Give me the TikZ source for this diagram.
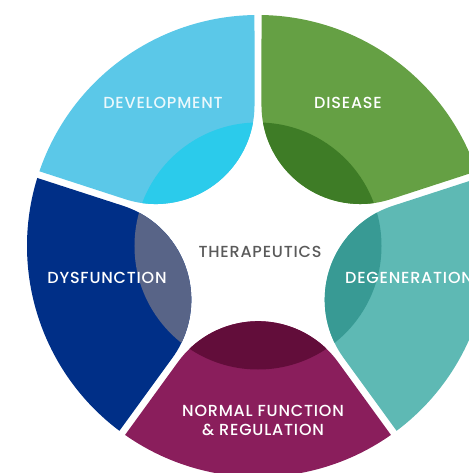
\documentclass[tikz,border=0pt]{standalone}
\usepackage{fontspec}
\setmainfont{Poppins Medium}[LetterSpace=5]
\definecolor{devlight}{HTML}{5BC8E8}
\definecolor{devdark}{HTML}{2BCBEB}
\definecolor{dislight}{HTML}{65A044}
\definecolor{disdark}{HTML}{3E7C26}
\definecolor{deglight}{HTML}{5EB9B4}
\definecolor{degdark}{HTML}{389A94}
\definecolor{normlight}{HTML}{8A1E5C}
\definecolor{normdark}{HTML}{620D3A}
\definecolor{dyslight}{HTML}{002F87}
\definecolor{dysdark}{HTML}{586487}
\definecolor{therapgray}{HTML}{5A5A5A}
\usetikzlibrary{positioning,calc}

% one ring segment around mid angle #1
\newcommand{\segmentpath}[1]{(#1+35.13:231) -- ([shift={(#1:174)}]#1+126:98.8)
  arc[start angle=#1+126, end angle=#1+234, radius=98.8]
  -- (#1-35.13:231) arc[start angle=#1-35.13, end angle=#1+35.13, radius=231] -- cycle}

\begin{document}
\begin{tikzpicture}[
  x=1pt, y=1pt,
  seglabel/.style={font=\fontsize{16}{19}\selectfont, text=#1, align=center},
  seglabel/.default=white
]
  \useasboundingbox (-258,-227) rectangle (210,246);

  % Segments with darker overlap on the centre circle
  \foreach \ang/\light/\dark in {126/devlight/devdark, 54/dislight/disdark,
      342/deglight/degdark, 270/normlight/normdark, 198/dyslight/dysdark}{
    \fill[\light] \segmentpath{\ang};
    \begin{scope}
      \clip (0,0) circle (123.5);
      \fill[\dark] \segmentpath{\ang};
    \end{scope}
  }

  % Labels
  \node[seglabel=white!88!devlight] (dev) at (-95,143) {DEVELOPMENT};
  \node[seglabel] (dis) at (90,143) {DISEASE};
  \node[seglabel] (deg) at (151,-32) {DEGENERATION};
  \node[seglabel] (norm) at (5,-174) {NORMAL FUNCTION\\\& REGULATION};
  \node[seglabel] (dys) at (-151,-32) {DYSFUNCTION};
  \node[seglabel=therapgray] (therap) at (2,-6) {THERAPEUTICS};
\end{tikzpicture}
\end{document}
